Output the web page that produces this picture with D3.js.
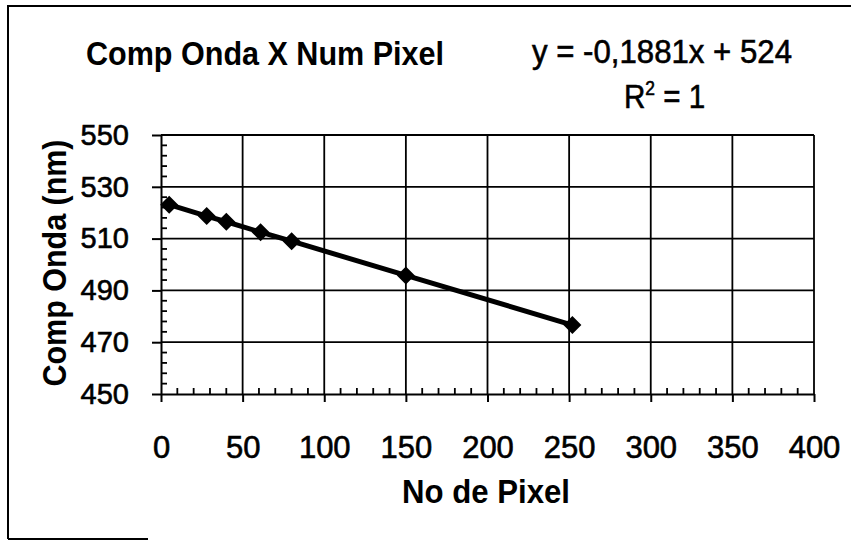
<!DOCTYPE html>
<html>
<head>
<meta charset="utf-8">
<script src="https://cdn.jsdelivr.net/npm/d3@7"></script>
<style>
  html, body { margin: 0; padding: 0; background: #fff; }
  svg { display: block; font-family: "Liberation Sans", Arial, sans-serif; }
</style>
</head>
<body>
<svg id="chart" width="851" height="541"></svg>
<script>
// ---- data ----
const pixelNumbers = [5, 28, 40, 61, 80, 150, 252];
const wavelengths  = [523.1, 518.7, 516.5, 512.5, 509.0, 495.8, 476.6];
const xTickValues = [0, 50, 100, 150, 200, 250, 300, 350, 400];
const yTickValues = [450, 470, 490, 510, 530, 550];
const chartTitle = "Comp Onda X Num Pixel";
const xTitle = "No de Pixel";
const yTitle = "Comp Onda (nm)";
const equationText = "y = -0,1881x + 524";

// ---- layout ----
const svg = d3.select("#chart");
const pLeft = 161, pRight = 814, pTop = 135, pBottom = 394;
const x = d3.scaleLinear().domain([0, 400]).range([pLeft, pRight]);
const y = d3.scaleLinear().domain([450, 550]).range([pBottom, pTop]);

// outer frame (partially visible as in the scan)
svg.append("path")
  .attr("d", "M8,539 L8,6 L851,6")
  .attr("fill", "none").attr("stroke", "#000").attr("stroke-width", 2);
svg.append("line").attr("x1", 8).attr("x2", 148).attr("y1", 539).attr("y2", 539)
  .attr("stroke", "#000").attr("stroke-width", 2);

// gridlines
const g = svg.append("g");
g.selectAll(".vg").data(xTickValues.filter(d => d > 0)).enter().append("line")
  .attr("x1", d => x(d)).attr("x2", d => x(d)).attr("y1", pTop).attr("y2", pBottom)
  .attr("stroke", "#000").attr("stroke-width", 1.8);
g.selectAll(".hg").data(yTickValues.filter(d => d > 450)).enter().append("line")
  .attr("x1", pLeft).attr("x2", pRight).attr("y1", d => y(d)).attr("y2", d => y(d))
  .attr("stroke", "#000").attr("stroke-width", 1.8);

// minor ticks
const xMinor = d3.range(0, 401, 10).filter(d => d % 50 !== 0);
const yMinor = d3.range(450, 551, 4).filter(d => (d - 450) % 20 !== 0);
g.selectAll(".xm").data(xMinor).enter().append("line")
  .attr("x1", d => x(d)).attr("x2", d => x(d)).attr("y1", pBottom).attr("y2", pBottom - 6)
  .attr("stroke", "#000").attr("stroke-width", 1.8);
g.selectAll(".ym").data(yMinor).enter().append("line")
  .attr("x1", pLeft).attr("x2", pLeft + 6).attr("y1", d => y(d)).attr("y2", d => y(d))
  .attr("stroke", "#000").attr("stroke-width", 1.8);

// axes
const xAxis = d3.axisBottom(x).tickValues(xTickValues).tickSize(8).tickSizeOuter(0).tickPadding(34);
const yAxis = d3.axisLeft(y).tickValues(yTickValues).tickSize(9).tickSizeOuter(0).tickPadding(23);
const gx = svg.append("g").attr("transform", `translate(0,${pBottom})`).call(xAxis);
const gy = svg.append("g").attr("transform", `translate(${pLeft},0)`).call(yAxis);
[gx, gy].forEach(a => {
  a.select(".domain").attr("stroke", "#000").attr("stroke-width", 2);
  a.selectAll(".tick line").attr("stroke", "#000").attr("stroke-width", 2);
  a.selectAll(".tick text").attr("fill", "#000")
    .attr("font-family", "Liberation Sans, Arial, sans-serif")
    .attr("stroke", "#000").attr("stroke-width", 0.6);
});
gy.selectAll(".tick text").attr("font-size", 29);
gx.selectAll(".tick text").attr("font-size", 31).attr("dy", "0.71em");

// data line
const pts = pixelNumbers.map((p, i) => [p, wavelengths[i]]);
svg.append("path")
  .datum(pts)
  .attr("fill", "none").attr("stroke", "#000").attr("stroke-width", 5)
  .attr("stroke-linejoin", "round")
  .attr("d", d3.line().x(d => x(d[0])).y(d => y(d[1])));

// diamond markers
svg.selectAll(".mk").data(pts).enter()
  .append("path")
  .attr("transform", d => `translate(${x(d[0])},${y(d[1])})`)
  .attr("d", "M0,-9 L9,0 L0,9 L-9,0 Z")
  .attr("fill", "#000");

// titles
svg.append("text").text(chartTitle)
  .attr("x", 86).attr("y", 65).attr("font-size", 34).attr("font-weight", "bold")
  .attr("textLength", 358).attr("lengthAdjust", "spacingAndGlyphs");
svg.append("text").text(equationText)
  .attr("x", 532).attr("y", 63).attr("font-size", 34)
  .attr("stroke", "#000").attr("stroke-width", 0.6)
  .attr("textLength", 260).attr("lengthAdjust", "spacingAndGlyphs");
const r2 = svg.append("text").attr("transform", "translate(624,108) scale(0.87,1)")
  .attr("font-size", 34)
  .attr("stroke", "#000").attr("stroke-width", 0.6);
r2.append("tspan").text("R");
r2.append("tspan").text("2").attr("font-size", 20).attr("dy", -13);
r2.append("tspan").text(" = 1").attr("dy", 13);

svg.append("text").text(xTitle)
  .attr("x", 486).attr("y", 503).attr("text-anchor", "middle")
  .attr("font-size", 33).attr("font-weight", "bold")
  .attr("textLength", 168).attr("lengthAdjust", "spacingAndGlyphs");
svg.append("text").text(yTitle)
  .attr("transform", "translate(66,263) rotate(-90)")
  .attr("text-anchor", "middle")
  .attr("font-size", 34).attr("font-weight", "bold")
  .attr("textLength", 247).attr("lengthAdjust", "spacingAndGlyphs");
</script>
</body>
</html>
